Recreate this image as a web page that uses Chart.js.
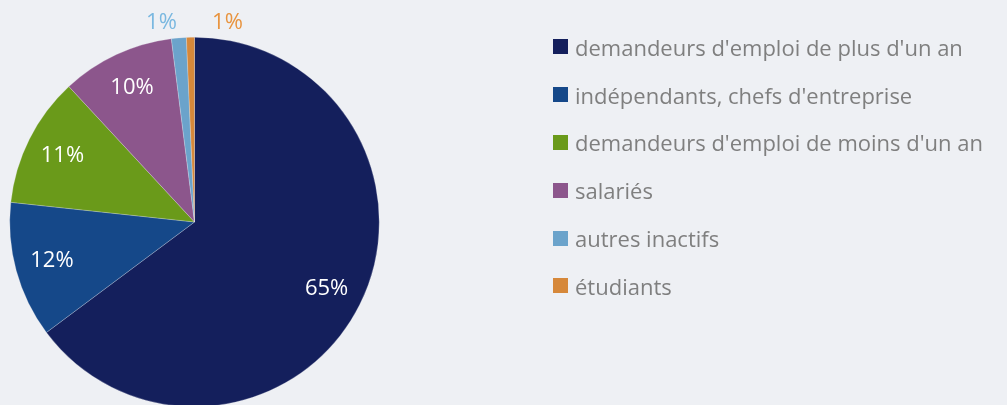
<!DOCTYPE html>
<html>
<head>
<meta charset="utf-8">
<script src="https://cdn.jsdelivr.net/npm/chart.js@4"></script>
<style>
  html, body { margin: 0; padding: 0; background: #eef0f4; overflow: hidden; }
  #wrap { position: relative; width: 1007px; height: 405px; overflow: hidden; }
  #box { position: absolute; left: 0; top: 0; width: 1007px; height: 445px; }
  #legend { position: absolute; left: 553px; top: 23px; font-family: "Open Sans", sans-serif; font-size: 22px; color: #7f7f7f; }
  #legend div { height: 47.8px; display: flex; align-items: center; white-space: nowrap; }
  #legend span.sw { display: inline-block; width: 15px; height: 15px; margin-right: 7px; }
</style>
</head>
<body>
<div id="wrap">
  <div id="box"><canvas id="pie"></canvas></div>
  <div id="legend"></div>
</div>
<script>
const LABELS = [
  "demandeurs d'emploi de plus d'un an",
  "indépendants, chefs d'entreprise",
  "demandeurs d'emploi de moins d'un an",
  "salariés",
  "autres inactifs",
  "étudiants"
];
const SHARES = [64.8, 11.9, 11.4, 9.9, 1.3, 0.7];
const COLORS = ['#141f5c', '#154889', '#6a9a1a', '#8c568c', '#6ba3cb', '#d6883a'];
const LABEL_COLORS = ['#ffffff', '#ffffff', '#ffffff', '#ffffff', '#7ab8e0', '#e8943f'];

// draws the percentage labels; tiny slices go outside and are spread apart
const pctLabels = {
  id: 'pctLabels',
  afterDatasetsDraw(chart) {
    const ctx = chart.ctx;
    const arcs = chart.getDatasetMeta(0).data;
    ctx.save();
    ctx.font = '22px "Open Sans", sans-serif';
    ctx.textAlign = 'center';
    ctx.textBaseline = 'middle';
    let small = 0;
    arcs.forEach((arc, i) => {
      const v = SHARES[i];
      const txt = Math.round(v) + '%';
      const mid = (arc.startAngle + arc.endAngle) / 2;
      let x, y;
      if (v < 3) {
        const r = arc.outerRadius + 15;
        x = arc.x + (small === 0 ? -33 : 33);
        y = arc.y - r;
        small++;
      } else {
        const r = arc.outerRadius * 0.8;
        x = arc.x + Math.cos(mid) * r;
        y = arc.y + Math.sin(mid) * r;
      }
      ctx.fillStyle = LABEL_COLORS[i];
      ctx.fillText(txt, x, y);
    });
    ctx.restore();
  }
};

const chart = new Chart(document.getElementById('pie'), {
  type: 'pie',
  data: {
    labels: LABELS,
    datasets: [{
      data: SHARES,
      backgroundColor: COLORS,
      borderColor: 'rgba(238,240,244,0.5)',
      borderWidth: 0.5,
      hoverOffset: 0
    }]
  },
  options: {
    responsive: true,
    maintainAspectRatio: false,
    animation: false,
    layout: { padding: { left: 9, top: 37, right: 627, bottom: 38 } },
    plugins: {
      legend: { display: false },
      tooltip: { enabled: false }
    }
  },
  plugins: [pctLabels]
});

const leg = document.getElementById('legend');
LABELS.forEach((l, i) => {
  const row = document.createElement('div');
  const sw = document.createElement('span');
  sw.className = 'sw';
  sw.style.background = COLORS[i];
  row.appendChild(sw);
  row.appendChild(document.createTextNode(l));
  leg.appendChild(row);
});
</script>
</body>
</html>
